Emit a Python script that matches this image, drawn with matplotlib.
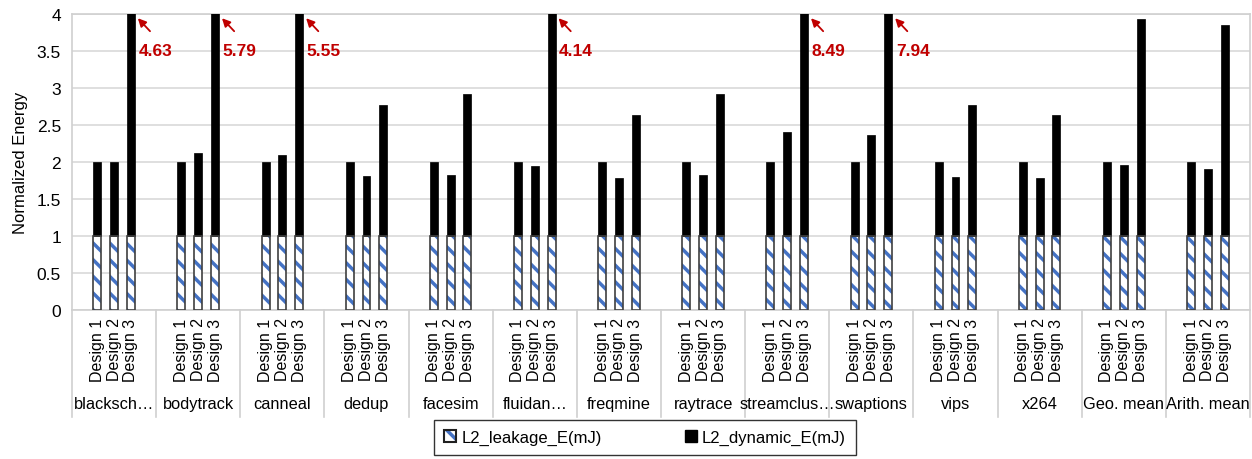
import numpy as np
import matplotlib.pyplot as plt
import matplotlib as mpl
from matplotlib.patches import Patch
from matplotlib.legend_handler import HandlerTuple

benchmarks = ["blacksch…", "bodytrack", "canneal", "dedup", "facesim", "fluidan…",
              "freqmine", "raytrace", "streamclus…", "swaptions", "vips", "x264",
              "Geo. mean", "Arith. mean"]
designs = ["Design 1", "Design 2", "Design 3"]

# normalized L2 energy per design (leakage + dynamic)
leakage = {
    "Design 1": [1.0] * 14,
    "Design 2": [1.0] * 14,
    "Design 3": [1.0] * 14,
}
dynamic = {
    "Design 1": [1.0] * 14,
    "Design 2": [1.00, 1.12, 1.10, 0.81, 0.82, 0.95, 0.79, 0.82, 1.40, 1.36, 0.80, 0.79, 0.96, 0.91],
    "Design 3": [3.63, 4.79, 4.55, 1.77, 1.92, 3.14, 1.63, 1.92, 7.49, 6.94, 1.77, 1.63, 2.93, 2.85],
}
# totals that go past the axis limit
clipped_labels = {0: "4.63", 1: "5.79", 2: "5.55", 5: "4.14", 8: "8.49", 9: "7.94"}

mpl.rcParams['font.family'] = ['Liberation Sans', 'DejaVu Sans']
mpl.rcParams['hatch.linewidth'] = 2.5

fig = plt.figure(figsize=(12.52, 4.6), dpi=100)
ax = fig.add_axes([72 / 1252, 1 - 311 / 460, 1178 / 1252, 296 / 460])

x = np.arange(len(benchmarks))
offsets = [-0.2, 0.0, 0.2]
w = 0.095

for i, d in enumerate(designs):
    pos = x + offsets[i]
    # blue stripes, then a dark outline on top
    ax.bar(pos, leakage[d], w, color='white', edgecolor='#4472C4', hatch='\\\\',
           linewidth=0, zorder=3)
    ax.bar(pos, leakage[d], w, fill=False, edgecolor='#404040', linewidth=1.2, zorder=4)
    ax.bar(pos, dynamic[d], w, bottom=leakage[d], color='black', edgecolor='black',
           linewidth=0.5, zorder=3)

for k, txt in clipped_labels.items():
    bx = x[k] + 0.2
    ax.annotate("", xy=(bx + 0.06, 3.97), xytext=(bx + 0.25, 3.74),
                arrowprops=dict(arrowstyle='-|>', color='#C00000', lw=1.3, mutation_scale=12),
                annotation_clip=False)
    ax.text(bx + 0.09, 3.51, txt, color='#C00000', fontsize=12.5, fontweight='bold',
            va='center', ha='left')

ax.set_xlim(-0.5, len(benchmarks) - 0.5)
ax.set_ylim(0, 4)
ax.set_yticks(np.arange(0, 4.01, 0.5))
ax.set_yticklabels(["0", "0.5", "1", "1.5", "2", "2.5", "3", "3.5", "4"], fontsize=12.5)
ax.set_xticks([])
ax.tick_params(axis='y', length=0, pad=8)
ax.yaxis.grid(True, color='#d9d9d9', linewidth=1.2, zorder=0)
ax.set_axisbelow(True)
for s in ax.spines.values():
    s.set_color('#d0d0d0')
    s.set_linewidth(1.2)
ax.set_ylabel("Normalized Energy", fontsize=12, labelpad=6)

# category table under the axis
for b in np.arange(-0.5, len(benchmarks), 1.0):
    ax.plot([b, b], [0, -1.45], color='#d0d0d0', lw=1.2, clip_on=False)
for j, name in enumerate(benchmarks):
    for i, d in enumerate(designs):
        ax.text(x[j] + offsets[i], -0.1, d, rotation=90, ha='center', va='top', fontsize=11.5)
    ax.text(x[j], -1.27, name, ha='center', va='center', fontsize=11.8)

h_leak = (Patch(facecolor='white', edgecolor='#4472C4', hatch='\\\\', linewidth=0),
          Patch(fill=False, edgecolor='#202020', linewidth=1.5))
h_dyn = Patch(facecolor='black', edgecolor='black')
leg = fig.legend([h_leak, h_dyn], ["L2_leakage_E(mJ)", "L2_dynamic_E(mJ)"],
                 handler_map={tuple: HandlerTuple(ndivide=1, pad=0)},
                 loc='upper center', bbox_to_anchor=(645 / 1252, 1 - 421 / 460), ncol=2,
                 fontsize=12, frameon=True, fancybox=False, edgecolor='black',
                 handlelength=0.7, handleheight=0.7, handletextpad=0.3, columnspacing=5.0,
                 borderpad=0.6, borderaxespad=0)
leg.get_frame().set_linewidth(1.0)

fig.savefig("out.png", dpi=100)
